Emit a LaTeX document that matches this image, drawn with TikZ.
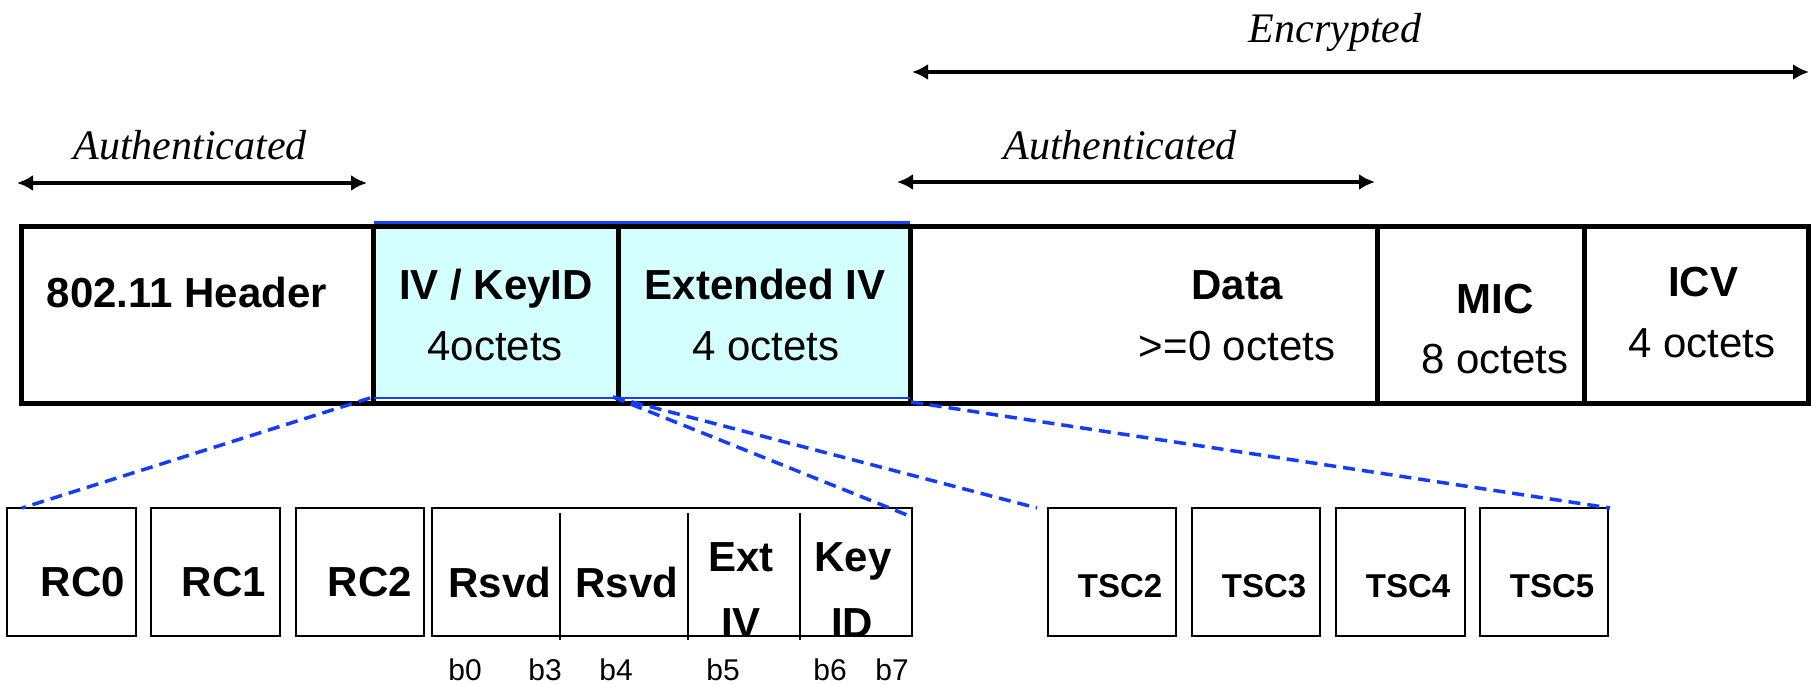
\documentclass[tikz,border=0pt]{standalone}
\usepackage{fontspec}
\setmainfont{Liberation Serif}
\newfontfamily\arialfont{Liberation Sans}
\usetikzlibrary{arrows.meta}

\definecolor{ivfill}{RGB}{212,255,255}
\definecolor{ivblue}{RGB}{24,64,255}
\definecolor{linkblue}{RGB}{20,60,255}

\tikzset{
  cell/.style={draw=black, line width=5pt, inner sep=0pt, outer sep=0pt,
    anchor=north west, minimum height=177pt},
  subbox/.style={draw=black, line width=2pt, inner sep=0pt, outer sep=0pt,
    anchor=north west, minimum height=128pt},
  lbl/.style={font=\arialfont\bfseries\fontsize{42pt}{50pt}\selectfont,
    anchor=base, inner sep=0pt},
  sz/.style={font=\arialfont\fontsize{42pt}{50pt}\selectfont,
    anchor=base, inner sep=0pt},
  tsclbl/.style={font=\arialfont\bfseries\fontsize{33pt}{40pt}\selectfont,
    anchor=base, inner sep=0pt},
  bitlbl/.style={font=\arialfont\fontsize{30pt}{36pt}\selectfont,
    anchor=base, inner sep=0pt},
  spanlbl/.style={font=\itshape\fontsize{42pt}{50pt}\selectfont,
    anchor=base, inner sep=0pt},
  spanarrow/.style={line width=4.5pt,
    {Latex[length=16pt,width=16pt]}-{Latex[length=16pt,width=16pt]}},
  dashline/.style={draw=linkblue, line width=3.5pt, dash pattern=on 12pt off 7pt},
  divider/.style={line width=1.5pt}
}

\begin{document}
\begin{tikzpicture}[x=1pt,y=-1pt]
\useasboundingbox (0,0) rectangle (1811,684);

% coverage ranges
\node[spanlbl] (enc) at (1335,43) {Encrypted};
\coordinate (encL) at (912,72);
\coordinate (encR) at (1809,72);
\draw[spanarrow] (encL) -- (encR);

\node[spanlbl] (authA) at (190,160) {Authenticated};
\coordinate (authAL) at (17,183);
\coordinate (authAR) at (367,183);
\draw[spanarrow] (authAL) -- (authAR);

\node[spanlbl] (authB) at (1120,160) {Authenticated};
\coordinate (authBL) at (897,182);
\coordinate (authBR) at (1375,182);
\draw[spanarrow] (authBL) -- (authBR);

% shaded IV region
\fill[ivfill] (373.5,222.5) rectangle (910,398);

% frame fields
\node[cell, minimum width=352pt]   (hdr)  at (21.5,226.5) {};
\node[cell, minimum width=244.5pt] (iv)   at (373.5,226.5) {};
\node[cell, minimum width=292pt]   (ext)  at (618,226.5) {};
\node[cell, minimum width=467pt]   (data) at (910,226.5) {};
\node[cell, minimum width=207pt]   (mic)  at (1377,226.5) {};
\node[cell, minimum width=224pt]   (icv)  at (1584,226.5) {};

\draw[ivblue, line width=2.5pt] (373.5,222.5) -- (910,222.5);
\draw[ivblue, line width=2.5pt] (373.5,398) -- (910,398);

\node[lbl] (hdrT)  at (187,308) {802.11 Header};
\node[lbl] (ivT)   at (496,300) {IV / KeyID};
\node[sz]  (ivS)   at (495,360) {4octets};
\node[lbl] (extT)  at (765,300) {Extended IV};
\node[sz]  (extS)  at (766,360) {4 octets};
\node[lbl] (dataT) at (1237,300) {Data};
\node[sz]  (dataS) at (1237,360) {>=0 octets};
\node[lbl] (micT)  at (1495,313) {MIC};
\node[sz]  (micS)  at (1495,373) {8 octets};
\node[lbl] (icvT)  at (1703,297) {ICV};
\node[sz]  (icvS)  at (1702,357) {4 octets};

% IV / KeyID octets
\node[subbox, minimum width=129pt] (rc0)  at (7,508) {};
\node[subbox, minimum width=129pt] (rc1)  at (151,508) {};
\node[subbox, minimum width=128pt] (rc2)  at (296,508) {};
\node[subbox, minimum width=480pt] (rsvd) at (432,508) {};
\draw[divider] (560,513) -- (560,640);
\draw[divider] (688,513) -- (688,640);
\draw[divider] (800,513) -- (800,640);

\node[lbl] (rc0T) at (83,596) {RC0};
\node[lbl] (rc1T) at (224,596) {RC1};
\node[lbl] (rc2T) at (370,596) {RC2};
\node[lbl] (rsvdA) at (500,597) {Rsvd};
\node[lbl] (rsvdB) at (627,597) {Rsvd};
\node[lbl] (extA) at (741,571) {Ext};
\node[lbl] (extB) at (741,637) {IV};
\node[lbl] (keyA) at (853,571) {Key};
\node[lbl] (keyB) at (852,637) {ID};

\node[bitlbl] (b0) at (465,680) {b0};
\node[bitlbl] (b3) at (545,680) {b3};
\node[bitlbl] (b4) at (616,680) {b4};
\node[bitlbl] (b5) at (723,680) {b5};
\node[bitlbl] (b6) at (830,680) {b6};
\node[bitlbl] (b7) at (892,680) {b7};

% Extended IV octets
\node[subbox, minimum width=128pt] (tsc2) at (1048,508) {};
\node[subbox, minimum width=128pt] (tsc3) at (1192,508) {};
\node[subbox, minimum width=129pt] (tsc4) at (1336,508) {};
\node[subbox, minimum width=128pt] (tsc5) at (1480,508) {};

\node[tsclbl] (tsc2T) at (1120,597) {TSC2};
\node[tsclbl] (tsc3T) at (1264,597) {TSC3};
\node[tsclbl] (tsc4T) at (1408,597) {TSC4};
\node[tsclbl] (tsc5T) at (1552,597) {TSC5};

% expansion guides
\coordinate (ivA) at (370,398);
\coordinate (ivB) at (613,397);
\coordinate (extE) at (911,402);
\draw[dashline] (ivA) -- ([xshift=15pt]rc0.north west);
\draw[dashline] (ivB) -- ([yshift=-9pt]rsvd.north east);
\draw[dashline] (ivB) -- ([xshift=-11pt]tsc2.north west);
\draw[dashline] (extE) -- ([xshift=2pt]tsc5.north east);
\end{tikzpicture}
\end{document}
